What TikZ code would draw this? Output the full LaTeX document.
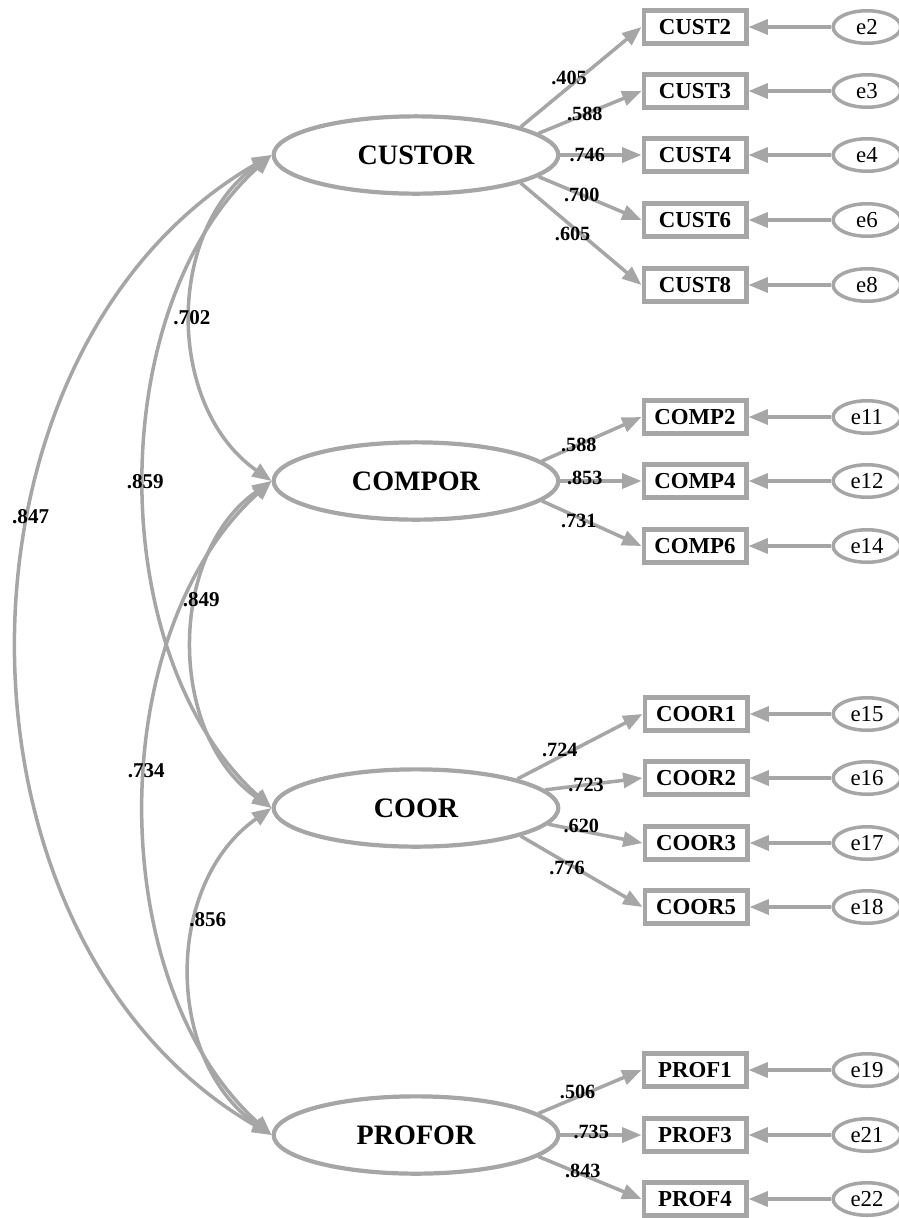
\documentclass[tikz,border=0pt]{standalone}
\usepackage{fontspec}
\setmainfont{Liberation Serif}
\usetikzlibrary{arrows.meta,shapes.geometric}
\definecolor{amosgray}{HTML}{A6A6A6}
\begin{document}
\begin{tikzpicture}[x=0.02cm,y=-0.02cm,
        latent/.style={ellipse,draw=amosgray,line width=2.4pt,minimum width=162pt,minimum height=44pt,inner sep=0pt,font=\fontsize{16}{18}\selectfont\bfseries},
        ind/.style={rectangle,draw=amosgray,line width=2.4pt,minimum width=58.5pt,minimum height=18.8pt,inner sep=0pt,font=\fontsize{13}{15}\selectfont\bfseries},
        err/.style={ellipse,draw=amosgray,line width=2pt,minimum width=38.5pt,minimum height=18.5pt,inner sep=0pt,font=\fontsize{13}{15}\selectfont},
        arr/.style={draw=amosgray,line width=2pt,-{Triangle[length=11pt,width=8.5pt]}},
        cov/.style={draw=amosgray,line width=2pt,{Triangle[length=11pt,width=8.5pt]}-{Triangle[length=11pt,width=8.5pt]}},
        lbl/.style={font=\fontsize{11.5}{13}\selectfont\bfseries,inner sep=0pt,anchor=center}]
        \useasboundingbox (0,0) rectangle (899,1218);
        \node[latent] (custor) at (416,155) {CUSTOR};
        \node[latent] (compor) at (416,481) {COMPOR};
        \node[latent] (coor) at (416,808) {COOR};
        \node[latent] (profor) at (416,1135) {PROFOR};
        \node[ind] (cust2) at (695,27) {CUST2};
        \node[ind] (cust3) at (695,91) {CUST3};
        \node[ind] (cust4) at (695,155) {CUST4};
        \node[ind] (cust6) at (695,220) {CUST6};
        \node[ind] (cust8) at (695,285) {CUST8};
        \node[ind] (comp2) at (695,417) {COMP2};
        \node[ind] (comp4) at (695,481) {COMP4};
        \node[ind] (comp6) at (695,546) {COMP6};
        \node[ind] (coor1) at (696,714) {COOR1};
        \node[ind] (coor2) at (696,778) {COOR2};
        \node[ind] (coor3) at (696,843) {COOR3};
        \node[ind] (coor5) at (696,907) {COOR5};
        \node[ind] (prof1) at (695,1070) {PROF1};
        \node[ind] (prof3) at (695,1135) {PROF3};
        \node[ind] (prof4) at (695,1199) {PROF4};
        \node[err] (e2) at (867,27) {e2};
        \node[err] (e3) at (867,91) {e3};
        \node[err] (e4) at (867,155) {e4};
        \node[err] (e6) at (867,220) {e6};
        \node[err] (e8) at (867,285) {e8};
        \node[err] (e11) at (867,417) {e11};
        \node[err] (e12) at (867,481) {e12};
        \node[err] (e14) at (867,546) {e14};
        \node[err] (e15) at (867,714) {e15};
        \node[err] (e16) at (867,778) {e16};
        \node[err] (e17) at (867,843) {e17};
        \node[err] (e18) at (867,907) {e18};
        \node[err] (e19) at (867,1070) {e19};
        \node[err] (e21) at (867,1135) {e21};
        \node[err] (e22) at (867,1199) {e22};
        \draw[arr] (e2) -- (cust2);
        \draw[arr] (e3) -- (cust3);
        \draw[arr] (e4) -- (cust4);
        \draw[arr] (e6) -- (cust6);
        \draw[arr] (e8) -- (cust8);
        \draw[arr] (e11) -- (comp2);
        \draw[arr] (e12) -- (comp4);
        \draw[arr] (e14) -- (comp6);
        \draw[arr] (e15) -- (coor1);
        \draw[arr] (e16) -- (coor2);
        \draw[arr] (e17) -- (coor3);
        \draw[arr] (e18) -- (coor5);
        \draw[arr] (e19) -- (prof1);
        \draw[arr] (e21) -- (prof3);
        \draw[arr] (e22) -- (prof4);
        \draw[arr] (custor.15) -- (cust2.west)
            node[lbl,pos=0.4,yshift=5pt] {.405};
        \draw[arr] (custor.10) -- (cust3.west)
            node[lbl,pos=0.45] {.588};
        \draw[arr] (custor.0) -- (cust4.west)
            node[lbl,pos=0.33] {.746};
        \draw[arr] (custor.-10) -- (cust6.west)
            node[lbl,pos=0.42] {.700};
        \draw[arr] (custor.-15) -- (cust8.west)
            node[lbl,pos=0.43,yshift=-4pt] {.605};
        \draw[arr] (compor.9) -- (comp2.west)
            node[lbl,pos=0.37] {.588};
        \draw[arr] (compor.0) -- (comp4.west)
            node[lbl,pos=0.3,yshift=2pt] {.853};
        \draw[arr] (compor.-9) -- (comp6.west)
            node[lbl,pos=0.37,yshift=-2pt] {.731};
        \draw[arr] (coor.16) -- (coor1.west)
            node[lbl,pos=0.34,yshift=4pt] {.724};
        \draw[arr] (coor.8) -- (coor2.west)
            node[lbl,pos=0.42] {.723};
        \draw[arr] (coor.-7) -- (coor3.west)
            node[lbl,pos=0.35,yshift=3pt] {.620};
        \draw[arr] (coor.-15) -- (coor5.west)
            node[lbl,pos=0.38,yshift=-3pt] {.776};
        \draw[arr] (profor.10) -- (prof1.west)
            node[lbl,pos=0.38,yshift=3pt] {.506};
        \draw[arr] (profor.0) -- (prof3.west)
            node[lbl,pos=0.38,yshift=2pt] {.735};
        \draw[arr] (profor.-10) -- (prof4.west)
            node[lbl,pos=0.43,yshift=2pt] {.843};
        \draw[cov] (custor.west) to[bend right=55,looseness=1.02]
            node[lbl,pos=0.5,font=\fontsize{12}{14}\selectfont\bfseries] {.702} (compor.west);
        \draw[cov] (custor.west) to[bend right=48,looseness=0.89]
            node[lbl,pos=0.5,font=\fontsize{12}{14}\selectfont\bfseries] {.859} (coor.west);
        \draw[cov] (custor.west) to[bend right=60,looseness=1.02]
            node[lbl,pos=0.39,font=\fontsize{12}{14}\selectfont\bfseries] {.847} (profor.west);
        \draw[cov] (compor.west) to[bend right=55,looseness=1.0]
            node[lbl,pos=0.38,xshift=2pt,font=\fontsize{12}{14}\selectfont\bfseries] {.849} (coor.west);
        \draw[cov] (compor.west) to[bend right=48,looseness=0.89]
            node[lbl,pos=0.45,font=\fontsize{12}{14}\selectfont\bfseries] {.734} (profor.west);
        \draw[cov] (coor.west) to[bend right=55,looseness=1.03]
            node[lbl,pos=0.36,xshift=6pt,font=\fontsize{12}{14}\selectfont\bfseries] {.856} (profor.west);
    \end{tikzpicture}
\end{document}
